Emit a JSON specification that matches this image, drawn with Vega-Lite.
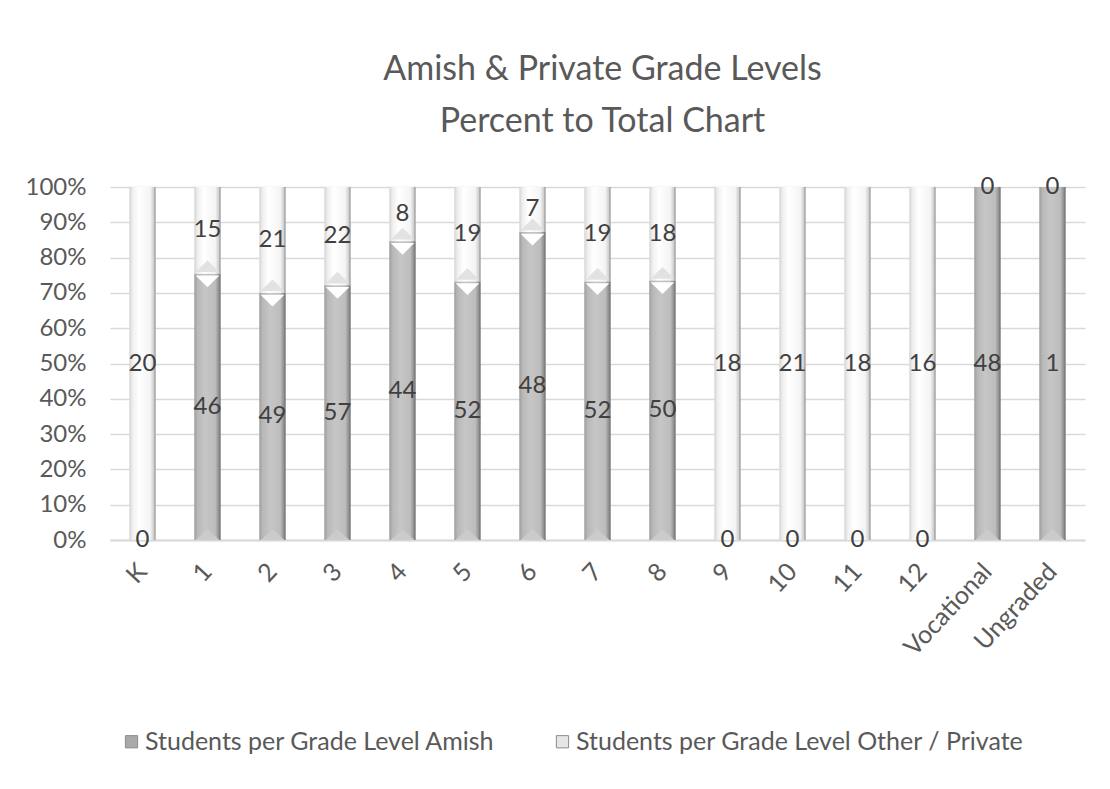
{
  "$schema": "https://vega.github.io/schema/vega-lite/v6.json",
  "autosize": "none",
  "width": 975,
  "height": 353,
  "padding": {"left": 110, "top": 187, "right": 25, "bottom": 249},
  "background": "white",
  "title": {
    "text": ["Amish & Private Grade Levels", "Percent to Total Chart"],
    "font": "Lato",
    "fontSize": 34,
    "fontWeight": "normal",
    "color": "#595959",
    "lineHeight": 52,
    "offset": 36,
    "dx": 5,
    "anchor": "middle"
  },
  "config": {
    "view": {"stroke": null},
    "font": "Lato",
    "axisY": {
      "title": null,
      "format": "%",
      "values": [0, 0.1, 0.2, 0.3, 0.4, 0.5, 0.6, 0.7, 0.8, 0.9, 1],
      "labelOverlap": false,
      "labelFontSize": 24,
      "labelColor": "#595959",
      "labelPadding": 24,
      "ticks": false,
      "domain": false,
      "gridColor": "#d9d9d9",
      "gridWidth": 1.5
    }
  },
  "data": {
    "values": [
      {"grade": "K", "series": "Students per Grade Level Amish", "order": 0, "value": 0},
      {"grade": "K", "series": "Students per Grade Level Other / Private", "order": 1, "value": 20},
      {"grade": "1", "series": "Students per Grade Level Amish", "order": 0, "value": 46},
      {"grade": "1", "series": "Students per Grade Level Other / Private", "order": 1, "value": 15},
      {"grade": "2", "series": "Students per Grade Level Amish", "order": 0, "value": 49},
      {"grade": "2", "series": "Students per Grade Level Other / Private", "order": 1, "value": 21},
      {"grade": "3", "series": "Students per Grade Level Amish", "order": 0, "value": 57},
      {"grade": "3", "series": "Students per Grade Level Other / Private", "order": 1, "value": 22},
      {"grade": "4", "series": "Students per Grade Level Amish", "order": 0, "value": 44},
      {"grade": "4", "series": "Students per Grade Level Other / Private", "order": 1, "value": 8},
      {"grade": "5", "series": "Students per Grade Level Amish", "order": 0, "value": 52},
      {"grade": "5", "series": "Students per Grade Level Other / Private", "order": 1, "value": 19},
      {"grade": "6", "series": "Students per Grade Level Amish", "order": 0, "value": 48},
      {"grade": "6", "series": "Students per Grade Level Other / Private", "order": 1, "value": 7},
      {"grade": "7", "series": "Students per Grade Level Amish", "order": 0, "value": 52},
      {"grade": "7", "series": "Students per Grade Level Other / Private", "order": 1, "value": 19},
      {"grade": "8", "series": "Students per Grade Level Amish", "order": 0, "value": 50},
      {"grade": "8", "series": "Students per Grade Level Other / Private", "order": 1, "value": 18},
      {"grade": "9", "series": "Students per Grade Level Amish", "order": 0, "value": 0},
      {"grade": "9", "series": "Students per Grade Level Other / Private", "order": 1, "value": 18},
      {"grade": "10", "series": "Students per Grade Level Amish", "order": 0, "value": 0},
      {"grade": "10", "series": "Students per Grade Level Other / Private", "order": 1, "value": 21},
      {"grade": "11", "series": "Students per Grade Level Amish", "order": 0, "value": 0},
      {"grade": "11", "series": "Students per Grade Level Other / Private", "order": 1, "value": 18},
      {"grade": "12", "series": "Students per Grade Level Amish", "order": 0, "value": 0},
      {"grade": "12", "series": "Students per Grade Level Other / Private", "order": 1, "value": 16},
      {"grade": "Vocational", "series": "Students per Grade Level Amish", "order": 0, "value": 48},
      {"grade": "Vocational", "series": "Students per Grade Level Other / Private", "order": 1, "value": 0},
      {"grade": "Ungraded", "series": "Students per Grade Level Amish", "order": 0, "value": 1},
      {"grade": "Ungraded", "series": "Students per Grade Level Other / Private", "order": 1, "value": 0}
    ]
  },
  "transform": [
    {"stack": "value", "groupby": ["grade"], "sort": [{"field": "order", "order": "ascending"}], "as": ["y0", "y1"], "offset": "normalize"}
  ],
  "encoding": {
    "x": {
      "field": "grade",
      "type": "nominal",
      "sort": null,
      "scale": {"paddingInner": 0.6, "paddingOuter": 0.3},
      "axis": {
        "title": null,
        "labelAngle": -47,
        "labelFontSize": 25,
        "labelColor": "#595959",
        "labelPadding": 27,
        "ticks": false,
        "domainColor": "#d9d9d9",
        "domainWidth": 2
      }
    }
  },
  "layer": [
    {
      "mark": {"type": "bar", "strokeWidth": 0},
      "encoding": {
        "y": {
          "field": "y0",
          "type": "quantitative",
          "scale": {"domain": [0, 1], "nice": false},
          "axis": {"title": null}
        },
        "y2": {"field": "y1"},
        "color": {
          "field": "series",
          "type": "nominal",
          "scale": {
            "domain": ["Students per Grade Level Amish", "Students per Grade Level Other / Private"],
            "range": ["#a9a9a9", "#e6e6e6"]
          },
          "legend": {
            "title": null,
            "orient": "none",
            "legendX": 9,
            "legendY": 542,
            "direction": "horizontal",
            "symbolType": "square",
            "symbolSize": 150,
            "symbolStrokeColor": "#8c8c8c",
            "symbolStrokeWidth": 1,
            "labelFontSize": 25,
            "labelColor": "#595959",
            "labelOffset": 1,
            "columnPadding": 55,
            "labelLimit": 600
          }
        }
      }
    },
    {
      "transform": [{"filter": "datum.order == 0"}],
      "mark": {
        "type": "bar",
        "fill": {
          "gradient": "linear", "x1": 0, "y1": 0, "x2": 1, "y2": 0,
          "stops": [
            {"offset": 0, "color": "#9e9e9e"},
            {"offset": 0.12, "color": "#b8b8b8"},
            {"offset": 0.4, "color": "#c6c6c6"},
            {"offset": 0.8, "color": "#bdbdbd"},
            {"offset": 0.92, "color": "#959595"},
            {"offset": 1, "color": "#6e6e6e"}
          ]
        }
      },
      "encoding": {
        "y": {"field": "y0", "type": "quantitative", "axis": {"title": null}},
        "y2": {"field": "y1"}
      }
    },
    {
      "transform": [{"filter": "datum.order == 1"}],
      "mark": {
        "type": "bar",
        "fill": {
          "gradient": "linear", "x1": 0, "y1": 0, "x2": 1, "y2": 0,
          "stops": [
            {"offset": 0, "color": "#d4d4d4"},
            {"offset": 0.12, "color": "#efefef"},
            {"offset": 0.35, "color": "#ffffff"},
            {"offset": 0.8, "color": "#f4f4f4"},
            {"offset": 0.93, "color": "#cfcfcf"},
            {"offset": 1, "color": "#8a8a8a"}
          ]
        }
      },
      "encoding": {
        "y": {"field": "y0", "type": "quantitative", "axis": {"title": null}},
        "y2": {"field": "y1"}
      }
    },
    {
      "transform": [{"filter": "datum.order == 0 && datum.value > 0 && datum.y1 < 0.999"}],
      "mark": {
        "type": "point",
        "shape": "M-0.66,-0.1L0.66,-0.1L0,-0.75Z",
        "size": 1296,
        "filled": true,
        "fill": "#e2e2e2",
        "opacity": 1,
        "strokeWidth": 0
      },
      "encoding": {
        "y": {"field": "y1", "type": "quantitative", "axis": {"title": null}}
      }
    },
    {
      "transform": [{"filter": "datum.order == 0 && datum.value > 0 && datum.y1 < 0.999"}],
      "mark": {
        "type": "point",
        "shape": "M-0.66,0.1L0.66,0.1L0,0.75Z",
        "size": 1296,
        "filled": true,
        "fill": "#ffffff",
        "opacity": 1,
        "strokeWidth": 0
      },
      "encoding": {
        "y": {"field": "y1", "type": "quantitative", "axis": {"title": null}}
      }
    },
    {
      "transform": [{"filter": "datum.order == 0 && datum.value > 0"}],
      "mark": {
        "type": "point",
        "shape": "M-0.66,0L0.66,0L0,-0.6Z",
        "size": 1296,
        "filled": true,
        "fill": "#cbcbcb",
        "opacity": 1,
        "strokeWidth": 0
      },
      "encoding": {
        "y": {"field": "y0", "type": "quantitative", "axis": {"title": null}}
      }
    },
    {
      "transform": [
        {"fold": ["y0", "y1"], "as": ["edge", "pos"]},
        {"aggregate": [{"op": "mean", "field": "pos", "as": "mid"}], "groupby": ["grade", "series", "value"]}
      ],
      "mark": {"type": "text", "fontSize": 24, "color": "#404040", "baseline": "middle", "align": "center"},
      "encoding": {
        "y": {"field": "mid", "type": "quantitative", "axis": {"title": null}},
        "text": {"field": "value", "type": "quantitative"}
      }
    }
  ]
}
